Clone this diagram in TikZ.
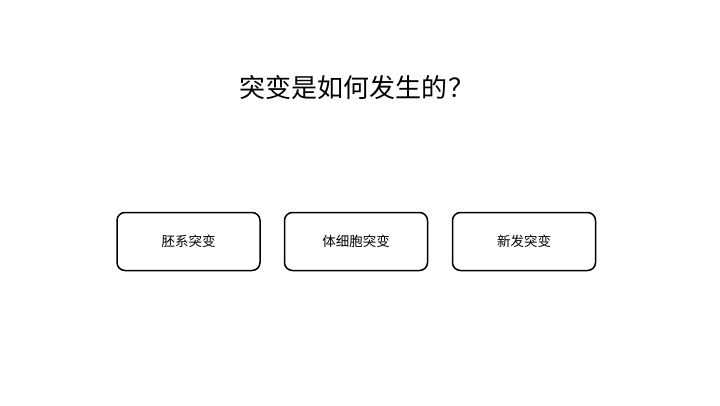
\documentclass[tikz,border=0pt]{standalone}
\usepackage{fontspec}
\setmainfont{Noto Sans CJK SC}
\newfontfamily\cjk{Noto Sans CJK SC}
\begin{document}
\begin{tikzpicture}[x=1pt,y=-1pt,
  boxstyle/.style={draw=black, line width=1.5pt, rounded corners=8pt, minimum width=143pt, minimum height=58pt, inner sep=0pt, font=\cjk\fontsize{13.5}{15}\selectfont},
  titlestyle/.style={font=\cjk\fontsize{26}{28}\selectfont, inner sep=0pt}]
\useasboundingbox (0,0) rectangle (720,405);
\node[titlestyle] (title) at (357,88) {突变是如何发生的\kern2pt？};
\node[boxstyle] (b1) at (188.5,241.5) {胚系突变};
\node[boxstyle] (b2) at (356,241.5) {体细胞突变};
\node[boxstyle] (b3) at (524,241.5) {新发突变};
\end{tikzpicture}
\end{document}
